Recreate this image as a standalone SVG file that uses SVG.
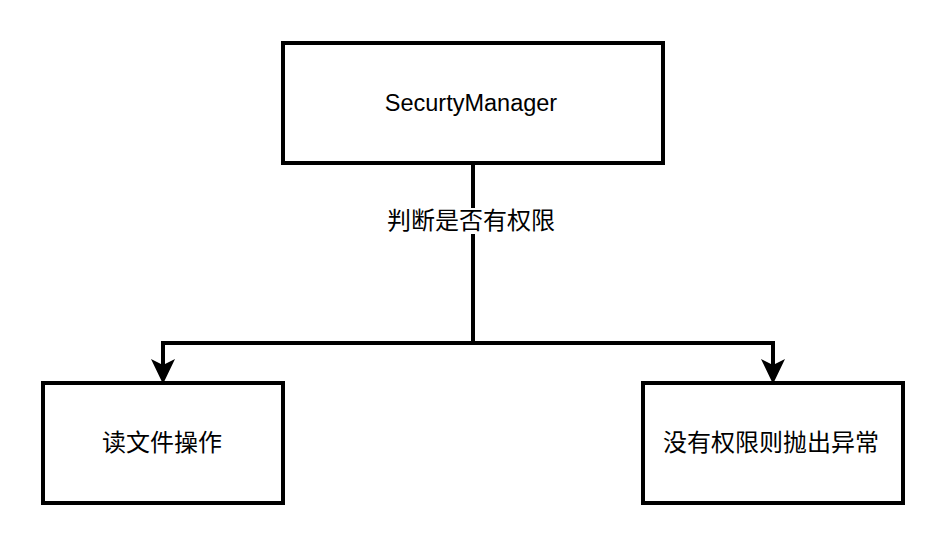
<svg xmlns="http://www.w3.org/2000/svg" width="944" height="544" viewBox="0 0 944 544">
<style>
.box{fill:#ffffff;stroke:#000000;stroke-width:4}
.edge{fill:none;stroke:#000000;stroke-width:4;stroke-linejoin:miter}
.lat{font-family:"Liberation Sans",Arial,sans-serif;font-size:23.5px;fill:#000000;text-anchor:middle}
.cjk{font-family:"Liberation Sans","Noto Sans CJK SC",sans-serif;font-size:24px;fill:#000000;text-anchor:middle}
</style>
<defs>
<marker id="arrow" viewBox="-7 -13 27 26" refX="0" refY="0" markerWidth="27" markerHeight="26" markerUnits="userSpaceOnUse" orient="auto">
<path d="M19,0 L-6,-12 L0,0 L-6,12 Z" fill="#000000"/>
</marker>
</defs>
<rect width="944" height="544" fill="#ffffff"/>
<g id="connectors">
<path class="edge" d="M473,163 V343 H163 V365" marker-end="url(#arrow)"/>
<path class="edge" d="M473,343 H773 V365" marker-end="url(#arrow)"/>
<rect x="384" y="208" width="178" height="26" fill="#ffffff"/>
<text class="cjk" x="471" y="229">判断是否有权限</text>
</g>
<g id="securitymanager">
<rect class="box" x="283" y="43" width="380" height="120"/>
<text class="lat" x="471" y="111">SecurtyManager</text>
</g>
<g id="read-file">
<rect class="box" x="43" y="383" width="240" height="120"/>
<text class="cjk" x="162" y="451">读文件操作</text>
</g>
<g id="throw-exception">
<rect class="box" x="643" y="383" width="260" height="120"/>
<text class="cjk" x="771" y="451">没有权限则抛出异常</text>
</g>
</svg>
